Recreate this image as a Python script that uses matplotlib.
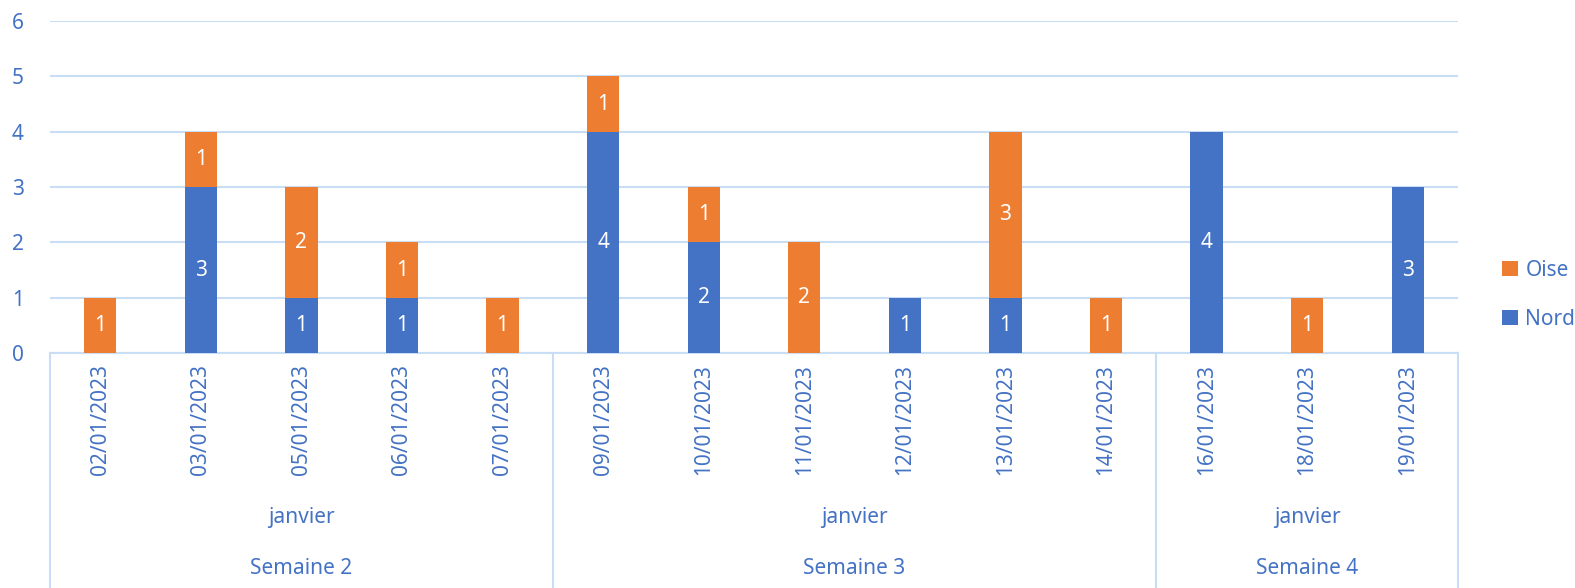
import matplotlib.pyplot as plt
import matplotlib.transforms as mtransforms
import numpy as np

dates = ["02/01/2023", "03/01/2023", "05/01/2023", "06/01/2023", "07/01/2023",
         "09/01/2023", "10/01/2023", "11/01/2023", "12/01/2023", "13/01/2023",
         "14/01/2023", "16/01/2023", "18/01/2023", "19/01/2023"]
nord = [0, 3, 1, 1, 0, 4, 2, 0, 1, 1, 0, 4, 0, 3]
oise = [1, 1, 2, 1, 1, 1, 1, 2, 0, 3, 1, 0, 1, 0]
semaines = ["Semaine 2", "Semaine 3", "Semaine 4"]
semaine_sizes = [5, 6, 3]
mois = "janvier"

BLUE = "#4472c4"
ORANGE = "#ed7d31"
TXT = "#4472c4"
GRID = "#c9ddf5"
FS = 15

plt.rcParams['font.family'] = ['Noto Sans', 'DejaVu Sans']

fig = plt.figure(figsize=(15.75, 5.88), dpi=100)
ax_w, ax_h = 1408, 332
ax = fig.add_axes([50 / 1575, 1 - 353 / 588, ax_w / 1575, ax_h / 588])

x = np.arange(len(dates))
b1 = ax.bar(x, nord, width=0.32, color=BLUE, label="Nord", zorder=3)
b2 = ax.bar(x, oise, width=0.32, bottom=nord, color=ORANGE, label="Oise", zorder=3)
for bars in (b1, b2):
    labels = [str(int(b.get_height())) if b.get_height() > 0 else "" for b in bars]
    ax.bar_label(bars, labels=labels, label_type="center", color="white", fontsize=FS)

ax.set_xlim(-0.5, len(dates) - 0.5)
ax.set_ylim(0, 6)
ax.set_yticks(range(0, 7))
ax.yaxis.grid(True, color=GRID, linewidth=1.5, zorder=0)
ax.set_axisbelow(True)
for s in ["top", "right", "left"]:
    ax.spines[s].set_visible(False)
ax.spines["bottom"].set_color(GRID)
ax.spines["bottom"].set_linewidth(1.5)
ax.tick_params(axis="y", length=0, labelcolor=TXT, labelsize=FS, pad=19)
ax.set_xticks(x)
ax.set_xticklabels(dates, rotation=90, color=TXT, fontsize=FS)
ax.tick_params(axis="x", length=0, pad=8)

# group labels and separators below the axis
trans = mtransforms.blended_transform_factory(ax.transData, ax.transAxes)
bottom_y = -(588 - 353) / ax_h
start = -0.5
ax.plot([start, start], [0, bottom_y], transform=trans, color=GRID, lw=1.5, clip_on=False)
for name, n in zip(semaines, semaine_sizes):
    end = start + n
    mid = (start + end) / 2
    ax.plot([end, end], [0, bottom_y], transform=trans, color=GRID, lw=1.5, clip_on=False)
    ax.text(mid, -(517 - 353) / ax_h, mois, transform=trans, ha="center", va="center",
            color=TXT, fontsize=FS)
    ax.text(mid, -(568 - 353) / ax_h, name, transform=trans, ha="center", va="center",
            color=TXT, fontsize=FS)
    start = end

handles, lbls = ax.get_legend_handles_labels()
ax.legend(handles[::-1], lbls[::-1], loc="center left",
          bbox_to_anchor=((1500 - 50 - 8) / ax_w, (353 - 295) / ax_h),
          frameon=False, labelcolor=TXT, fontsize=FS, handlelength=0.75, handleheight=0.75,
          handletextpad=0.35, labelspacing=1.35, borderpad=0)

fig.savefig("out.png", dpi=100)
